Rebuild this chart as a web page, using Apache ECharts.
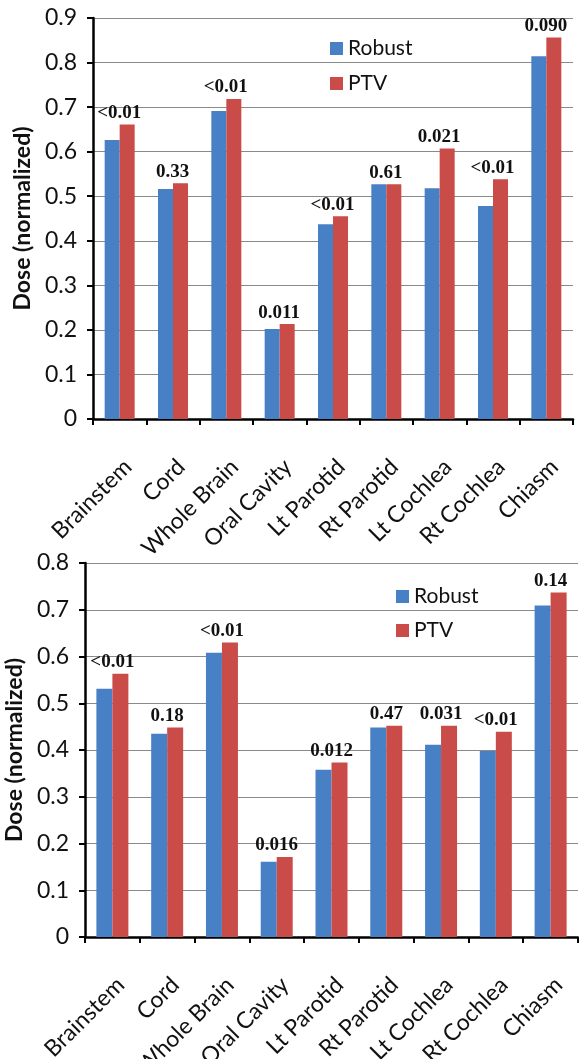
<!DOCTYPE html>
<html>
<head>
<meta charset="utf-8">
<script src="https://cdn.jsdelivr.net/npm/echarts@6/dist/echarts.min.js"></script>
<style>
html,body{margin:0;padding:0;background:#fff;}
#c{width:579px;height:1059px;}
</style>
</head>
<body>
<div id="c"></div>
<script>
const categories = ['Brainstem','Cord','Whole Brain','Oral Cavity','Lt Parotid','Rt Parotid','Lt Cochlea','Rt Cochlea','Chiasm'];
const topRobust = [0.626,0.516,0.691,0.202,0.437,0.527,0.518,0.478,0.814];
const topPTV    = [0.661,0.529,0.718,0.213,0.455,0.527,0.607,0.538,0.856];
const topP      = ['<0.01','0.33','<0.01','0.011','<0.01','0.61','0.021','<0.01','0.090'];
const botRobust = [0.531,0.435,0.608,0.161,0.358,0.448,0.411,0.398,0.709];
const botPTV    = [0.563,0.448,0.630,0.171,0.373,0.452,0.452,0.439,0.737];
const botP      = ['<0.01','0.18','<0.01','0.016','0.012','0.47','0.031','<0.01','0.14'];
const topTicks = {min:0, max:0.9, interval:0.1};
const botTicks = {min:0, max:0.8, interval:0.1};

const BLUE = '#4880C6', RED = '#C94C49';
const SANS = 'Lato';

function xAxis(gi){
  return {
    type:'category', gridIndex:gi, data:categories,
    axisLine:{lineStyle:{color:'#000',width:2.5}},
    axisTick:{show:true,length:6,lineStyle:{color:'#000',width:2}},
    axisLabel:{rotate:45,margin:36,color:'#111',fontFamily:SANS,fontSize:23,verticalAlign:'top',interval:0}
  };
}
function yAxis(gi,t){
  return {
    type:'value', gridIndex:gi, min:t.min, max:t.max, interval:t.interval,
    name:'Dose (normalized)', nameLocation:'middle', nameGap:58,
    nameTextStyle:{fontFamily:SANS,fontWeight:'bold',fontSize:23,color:'#111'},
    axisLine:{show:true,lineStyle:{color:'#000',width:2.5}},
    axisTick:{show:true,length:6,lineStyle:{color:'#000',width:2}},
    axisLabel:{margin:16,color:'#111',fontFamily:SANS,fontSize:23},
    splitLine:{show:true,lineStyle:{color:'#8a8a8a',width:1}}
  };
}
function labelFor(arr){
  return {
    show:true, position:'top', distance:2, offset:[-8,0],
    fontFamily:'Liberation Serif', fontWeight:'bold', fontSize:19, color:'#111',
    formatter:p=>arr[p.dataIndex]
  };
}
const chart = echarts.init(document.getElementById('c'),null,{renderer:'canvas'});
chart.setOption({
  backgroundColor:'#fff',
  animation:false,
  grid:[
    {left:93, top:18, width:480, height:401, outerBoundsMode:'none', containLabel:false},
    {left:85, top:563, width:493, height:374, outerBoundsMode:'none', containLabel:false}
  ],
  legend:[
    {data:['Robust','PTV'], orient:'vertical', left:325, top:33, icon:'rect', itemWidth:13, itemHeight:13, itemGap:14,
     textStyle:{fontFamily:SANS,fontSize:21,color:'#111'}},
    {data:['Robust','PTV'], orient:'vertical', left:391, top:581, icon:'rect', itemWidth:13, itemHeight:13, itemGap:13,
     textStyle:{fontFamily:SANS,fontSize:21,color:'#111'}}
  ],
  xAxis:[xAxis(0),xAxis(1)],
  yAxis:[yAxis(0,topTicks),yAxis(1,botTicks)],
  series:[
    {name:'Robust', type:'bar', xAxisIndex:0, yAxisIndex:0, data:topRobust, barWidth:15, barGap:'0%', itemStyle:{color:BLUE}},
    {name:'PTV', type:'bar', xAxisIndex:0, yAxisIndex:0, data:topPTV, barWidth:15, barGap:'0%', itemStyle:{color:RED}, label:labelFor(topP)},
    {name:'Robust', type:'bar', xAxisIndex:1, yAxisIndex:1, data:botRobust, barWidth:16, barGap:'0%', itemStyle:{color:BLUE}},
    {name:'PTV', type:'bar', xAxisIndex:1, yAxisIndex:1, data:botPTV, barWidth:16, barGap:'0%', itemStyle:{color:RED}, label:labelFor(botP)}
  ]
});
</script>
</body>
</html>
